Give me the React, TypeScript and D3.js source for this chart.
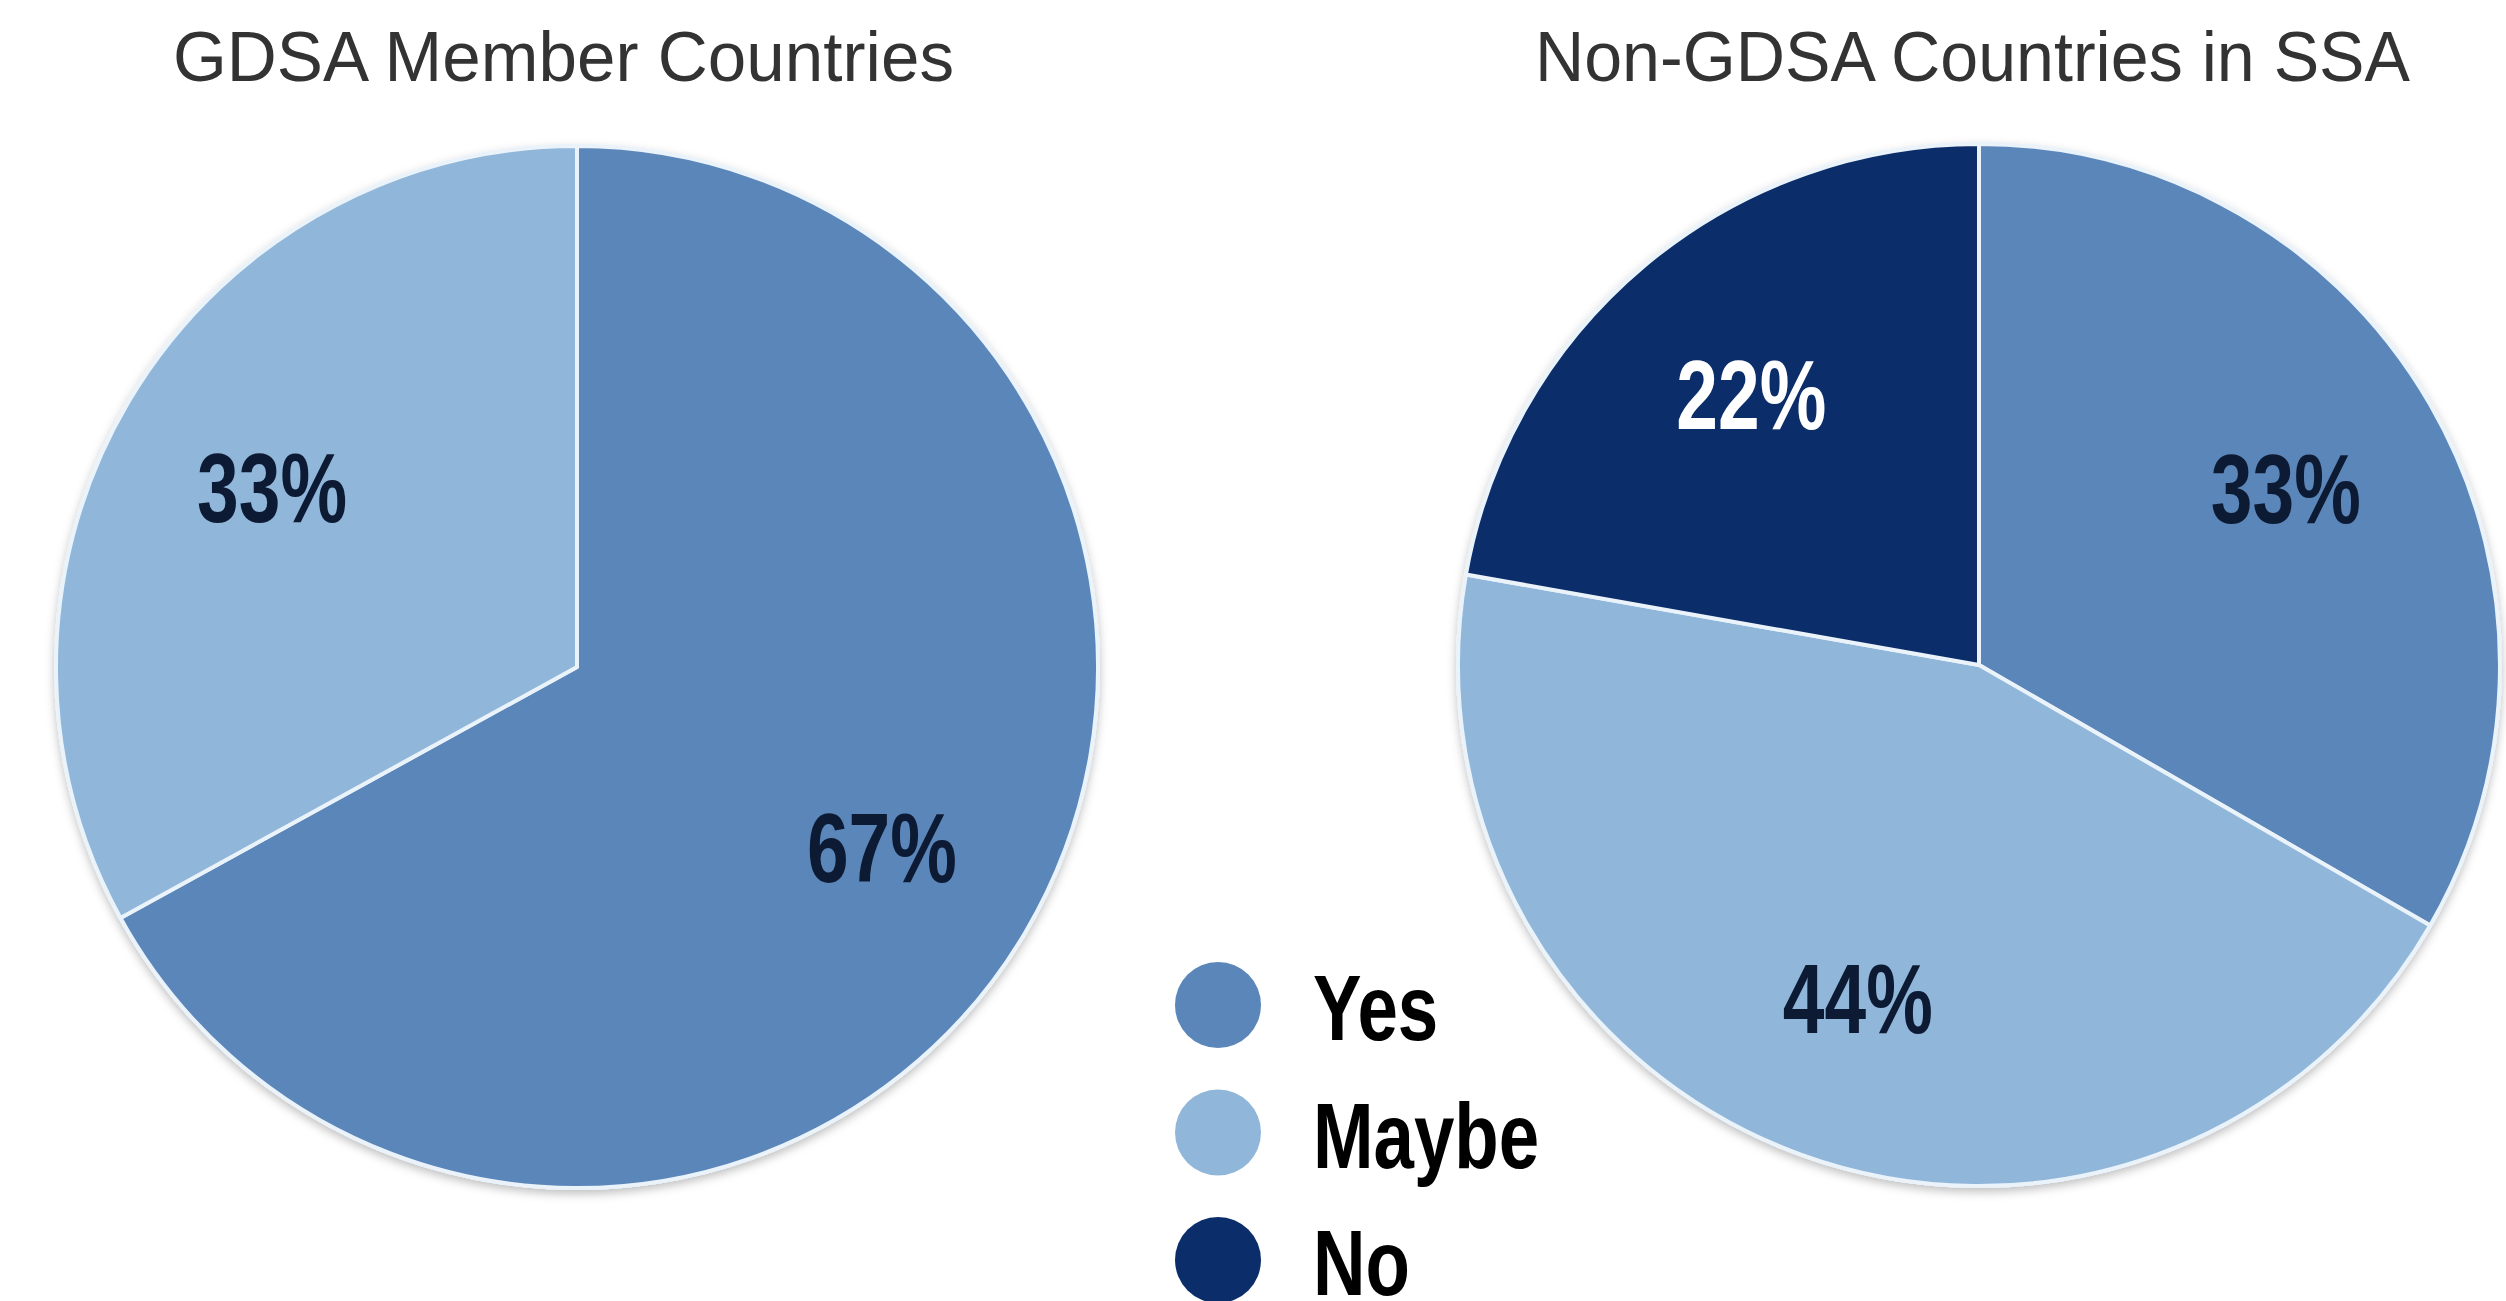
import React from "react";
import * as d3 from "d3";

const categories = ["Yes", "Maybe", "No"];
const colors = ["#5b86b9", "#90b6da", "#0b2d6a"];
const labelColors = ["#0d1a33", "#0d1a33", "#ffffff"];

const leftTitle = "GDSA Member Countries";
const rightTitle = "Non-GDSA Countries in SSA";
const leftValues = [67, 33, 0];
const rightValues = [33, 44, 22];

const W = 2506;
const H = 1301;
const R = 521;

type Datum = { cat: string; idx: number; value: number };

type PieProps = {
  cx: number;
  cy: number;
  values: number[];
  title: string;
  titleX: number;
  titleLen: number;
};

function Pie({ cx, cy, values, title, titleX, titleLen }: PieProps) {
  const data: Datum[] = categories
    .map((c, i) => ({ cat: c, idx: i, value: values[i] }))
    .filter((d) => d.value > 0);
  const pie = d3
    .pie<Datum>()
    .sort(null)
    .value((d) => d.value);
  const arcs = pie(data);
  const arc = d3.arc<d3.PieArcDatum<Datum>>().innerRadius(0).outerRadius(R);
  const labelArc = d3
    .arc<d3.PieArcDatum<Datum>>()
    .innerRadius(R * 0.68)
    .outerRadius(R * 0.68);
  return (
    <g>
      <text
        x={titleX}
        y={81}
        fontFamily="'Liberation Sans', Arial, sans-serif"
        fontSize={71}
        fill="#333333"
        textLength={titleLen}
        lengthAdjust="spacingAndGlyphs"
      >
        {title}
      </text>
      <g transform={`translate(${cx},${cy})`}>
        <circle r={R + 2} fill="#e8f0f8" filter="url(#shadow)" />
        {arcs.map((a) => (
          <path
            key={a.data.cat}
            d={arc(a) || ""}
            fill={colors[a.data.idx]}
            stroke="#eaf2fa"
            strokeWidth={4}
            strokeLinejoin="round"
          />
        ))}
        {arcs.map((a) => {
          const [lx, ly] = labelArc.centroid(a);
          const txt = `${Math.round(a.data.value)}%`;
          return (
            <text
              key={"l" + a.data.cat}
              x={lx}
              y={ly + 35}
              textAnchor="middle"
              fontFamily="'Liberation Sans Narrow', 'Liberation Sans', sans-serif"
              fontWeight="bold"
              fontSize={98}
              fill={labelColors[a.data.idx]}
              textLength={150}
              lengthAdjust="spacingAndGlyphs"
            >
              {txt}
            </text>
          );
        })}
      </g>
    </g>
  );
}

export default function App() {
  const legendY = d3
    .scalePoint<string>()
    .domain(categories)
    .range([1005, 1260]);
  return (
    <svg
      width={W}
      height={H}
      style={{ position: "absolute", left: 0, top: 0, background: "#ffffff" }}
    >
      <defs>
        <filter id="shadow" x="-10%" y="-10%" width="120%" height="120%">
          <feDropShadow dx="0" dy="4" stdDeviation="5" floodColor="#000" floodOpacity="0.25" />
        </filter>
      </defs>
      <rect width={W} height={H} fill="#ffffff" />
      <Pie cx={577} cy={667} values={leftValues} title={leftTitle} titleX={173} titleLen={781} />
      <Pie cx={1979} cy={665} values={rightValues} title={rightTitle} titleX={1535} titleLen={875} />
      <g>
        {categories.map((c, i) => (
          <g key={c}>
            <circle cx={1218} cy={legendY(c)!} r={43} fill={colors[i]} />
            <g transform={`translate(1313,${legendY(c)! + 35}) scale(0.79,1)`}>
              <text
                x={0}
                y={0}
                fontFamily="'Liberation Sans', sans-serif"
                fontWeight="bold"
                fontSize={92}
                fill="#000000"
              >
                {c}
              </text>
            </g>
          </g>
        ))}
      </g>
    </svg>
  );
}
